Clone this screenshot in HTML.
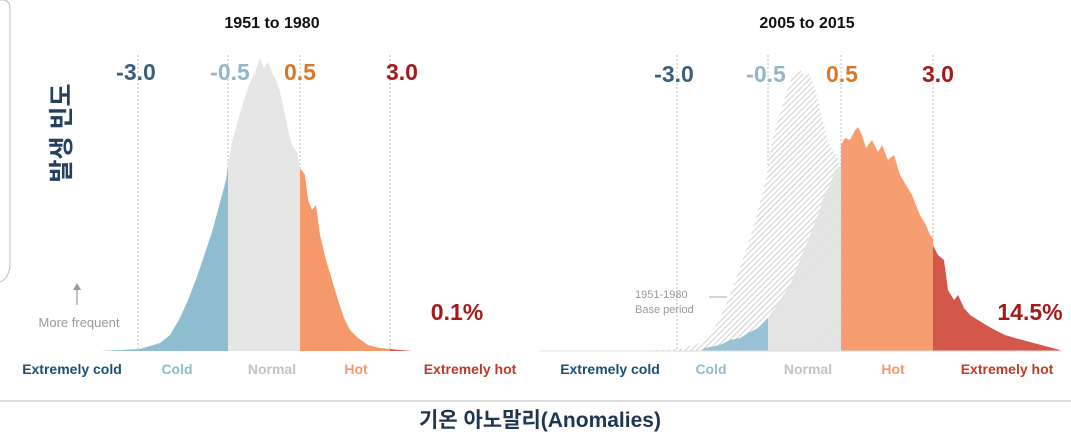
<!DOCTYPE html>
<html><head><meta charset="utf-8"><style>
body{margin:0;background:#fff;width:1071px;height:434px;overflow:hidden}
svg{display:block}
text{font-family:"Liberation Sans","Noto Sans CJK KR",sans-serif}
</style></head><body>
<svg width="1071" height="434" viewBox="0 0 1071 434">
<defs>
<pattern id="h" width="4" height="4" patternUnits="userSpaceOnUse" patternTransform="rotate(45)">
<rect width="4" height="4" fill="#fff"/><line x1="0" y1="0" x2="0" y2="4" stroke="#c2c2c2" stroke-width="1.5"/>
</pattern>
</defs>
<path d="M0,0 H3 Q10,0 10,10 V262 Q10,278 0,282" fill="none" stroke="#bbb" stroke-width="1"/>
<text x="272" y="28" font-size="16" font-weight="bold" text-anchor="middle" fill="#111">1951 to 1980</text>
<text x="807" y="28" font-size="16" font-weight="bold" text-anchor="middle" fill="#111">2005 to 2015</text>
<text transform="translate(70,133) rotate(-90)" font-size="25" font-weight="bold" fill="#253f5e" text-anchor="middle">발생 빈도</text>
<g stroke="#bbb" stroke-dasharray="2,2" stroke-width="1">
<line x1="138" y1="55" x2="138" y2="350"/><line x1="228" y1="55" x2="228" y2="350"/><line x1="300" y1="55" x2="300" y2="350"/><line x1="390" y1="55" x2="390" y2="350"/>
<line x1="677" y1="55" x2="677" y2="350"/><line x1="768" y1="55" x2="768" y2="350"/><line x1="841" y1="55" x2="841" y2="350"/><line x1="933" y1="55" x2="933" y2="350"/>
</g>
<polygon fill="#8fbdd0" points="100,351 140,349 160,343 170,335 180,318 188,300 195,282 200,268 206,250 212,232 218,210 222,195 226,180 228,165 228,351"/>
<polygon fill="#e6e6e6" points="228,351 228,165 232,142 238,120 244,100 248,88 252,78 256,70 260,58 264,68 268,62 272,72 276,80 280,92 284,110 288,130 292,145 297,152 300,168 300,351"/>
<polygon fill="#f5996a" points="300,351 300,168 305,175 308,200 312,210 316,205 320,235 326,260 332,280 338,300 344,318 350,330 358,338 368,345 380,348 390,349 390,351"/>
<polygon fill="#d4584a" points="390,351 390,349 400,350 412,351"/>
<polygon fill="url(#h)" points="640,351 680,349 700,343 710,335 720,318 728,300 735,282 740,268 746,250 752,232 758,210 762,195 766,180 768,165 772,142 778,120 784,100 788,88 792,78 796,72 800,70 804,75 808,72 812,80 816,92 820,110 824,125 828,140 832,150 837,155 841,168 845,175 848,200 852,210 856,205 860,235 866,260 872,280 878,300 884,318 890,330 898,338 908,345 920,348 930,349 952,351"/>
<polygon fill="#8fbdd0" opacity="0.9" points="700,351 705,348 720,345 730,340 740,338 750,332 758,328 764,322 768,318 768,351"/>
<polygon fill="#e2e2e2" opacity="0.9" points="768,351 768,318 780,300 790,285 800,260 810,235 818,215 824,195 830,185 835,170 841,165 841,351"/>
<polygon fill="#f5996a" opacity="0.95" points="841,351 841,145 845,138 850,140 855,130 858,127 862,135 866,148 872,140 878,152 882,145 888,160 894,155 900,175 906,185 912,195 916,205 920,215 926,225 930,235 933,238 933,351"/>
<polygon fill="#d4584a" points="933,351 933,245 938,255 944,260 948,290 954,300 958,295 964,308 970,315 978,320 986,325 995,330 1005,335 1015,338 1030,342 1045,346 1060,350 1060,351"/>
<line x1="540" y1="351" x2="1062" y2="351" stroke="#dcdcdc" stroke-width="1"/>
<g font-size="23" font-weight="bold" text-anchor="middle">
<text x="136" y="80" fill="#3b5d7e">-3.0</text><text x="230" y="80" fill="#95b5cc">-0.5</text><text x="300" y="80" fill="#d9782b">0.5</text><text x="402" y="80" fill="#a31a1a">3.0</text>
<text x="674" y="82" fill="#3b5d7e">-3.0</text><text x="766" y="82" fill="#95b5cc">-0.5</text><text x="842" y="82" fill="#d9782b">0.5</text><text x="938" y="82" fill="#a31a1a">3.0</text>
</g>
<text x="457" y="320" font-size="23" font-weight="bold" text-anchor="middle" fill="#a31a1a">0.1%</text>
<text x="1030" y="320" font-size="23" font-weight="bold" text-anchor="middle" fill="#a31a1a">14.5%</text>
<line x1="77" y1="305" x2="77" y2="287" stroke="#999" stroke-width="1.2"/><polygon points="73,290 81,290 77,283" fill="#999"/>
<text x="79" y="327" font-size="13" fill="#999" text-anchor="middle">More frequent</text>
<text x="635" y="298" font-size="11" fill="#999">1951-1980</text><text x="635" y="313" font-size="11" fill="#999">Base period</text>
<line x1="709" y1="297" x2="727" y2="297" stroke="#aaa"/>
<g font-size="14" font-weight="bold" text-anchor="middle">
<text x="72" y="374" fill="#1d4f73">Extremely cold</text><text x="177" y="374" fill="#8fbdd0">Cold</text><text x="272" y="374" fill="#c2c2c2">Normal</text><text x="356" y="374" fill="#f5996a">Hot</text><text x="470" y="374" fill="#c0392b">Extremely hot</text>
<text x="610" y="374" fill="#1d4f73">Extremely cold</text><text x="711" y="374" fill="#8fbdd0">Cold</text><text x="808" y="374" fill="#c2c2c2">Normal</text><text x="893" y="374" fill="#f5996a">Hot</text><text x="1007" y="374" fill="#c0392b">Extremely hot</text>
</g>
<line x1="0" y1="401" x2="1071" y2="401" stroke="#bbb" stroke-width="1"/>
<text x="540" y="427" font-size="21" font-weight="bold" text-anchor="middle" fill="#1f3550">기온 아노말리(Anomalies)</text>
</svg>
</body></html>
